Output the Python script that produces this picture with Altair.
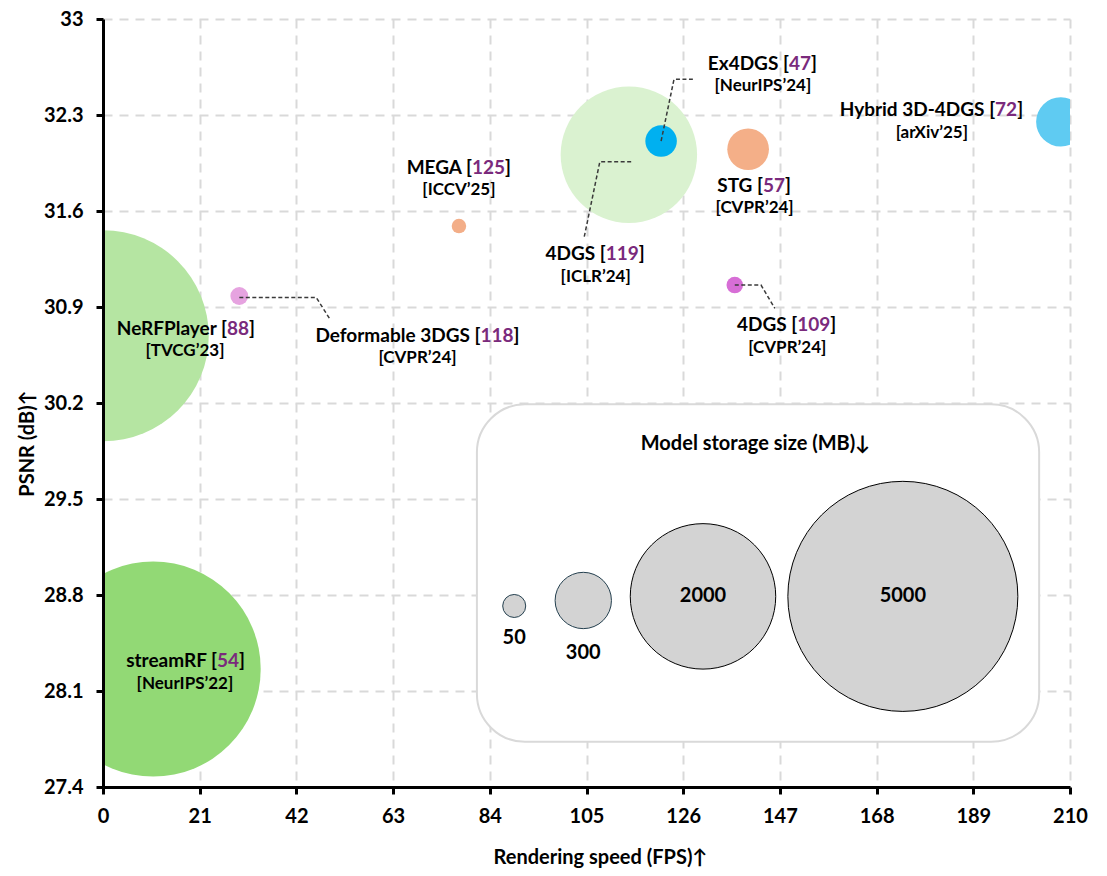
import altair as alt
import pandas as pd

# ---------------- data ----------------
methods = ["streamRF", "NeRFPlayer", "Deformable 3DGS", "MEGA", "4DGS",
           "Ex4DGS", "STG", "4DGS", "Hybrid 3D-4DGS"]
refs = ["54", "88", "118", "125", "119", "47", "57", "109", "72"]
venues = ["[NeurIPS’22]", "[TVCG’23]", "[CVPR’24]", "[ICCV’25]", "[ICLR’24]",
          "[NeurIPS’24]", "[CVPR’24]", "[CVPR’24]", "[arXiv’25]"]
fps = [10.9, 0.05, 29.6, 77.3, 114.2, 121.2, 140.1, 137.2, 208.0]
psnr = [28.26, 30.69, 30.98, 31.49, 32.01, 32.11, 32.05, 31.06, 32.25]
storage_mb = [4370, 4210, 30, 20, 1760, 94, 164, 26, 230]

# annotation anchors (data units)
label_x = [17.8, 17.8, 68.3, 77.3, 107.0, 143.3, 141.5, 148.6, 180.0]
label_y1 = [28.32, 30.74, 30.69, 31.91, 31.29, 32.67, 31.78, 30.77, 32.34]
label_y2 = [28.15, 30.58, 30.53, 31.75, 31.12, 32.51, 31.62, 30.60, 32.17]

leader_key = ["d3dgs"] * 3 + ["4dgs119"] * 3 + ["ex4dgs"] * 3 + ["4dgs109"] * 3
leader_ord = [0, 1, 2] * 4
leader_x = [29.6, 46.3, 49.3, 114.7, 107.9, 104.5, 121.2, 124.0, 128.1, 137.2, 142.9, 145.9]
leader_y = [30.97, 30.97, 30.81, 31.96, 31.96, 31.41, 32.11, 32.56, 32.56, 31.06, 31.06, 30.89]

legend_sizes = [50, 300, 2000, 5000]
legend_x = [89.3, 104.3, 130.3, 173.7]
legend_y = [28.72, 28.76, 28.79, 28.79]
legend_label_y = [28.49, 28.38, 28.79, 28.79]
legend_title = "Model storage size (MB)↓"
legend_title_x = [141.7]
legend_title_y = [29.90]
box_x = [81.2, 203.3]
box_y = [30.19, 27.73]

x_ticks = [0, 21, 42, 63, 84, 105, 126, 147, 168, 189, 210]
y_ticks = [27.4, 28.1, 28.8, 29.5, 30.2, 30.9, 31.6, 32.3, 33]

palette = ["#92D975", "#B5E5A2", "#E6A3E0", "#F3AE88", "#DAF2D0",
           "#00B0F0", "#F4AF88", "#D76ED6", "#5FCBF2"]
REF_COLOR = "#7A2A7C"
FONT = "Lato"
F1, F2 = 19, 17
PLOT_W, PLOT_H = 967, 768
X_DOM, Y_DOM = [0, 210], [27.4, 33]
PX_PER_X = PLOT_W / (X_DOM[1] - X_DOM[0])

# approximate advance widths (em) for Lato Bold, used to centre split labels
W = {' ': 0.193, '[': 0.33, ']': 0.33, '-': 0.37, '’': 0.25,
     'A': 0.70, 'B': 0.66, 'C': 0.66, 'D': 0.75, 'E': 0.56, 'F': 0.54, 'G': 0.73,
     'H': 0.77, 'I': 0.30, 'L': 0.50, 'M': 0.93, 'N': 0.77, 'P': 0.63, 'R': 0.65,
     'S': 0.54, 'T': 0.58, 'V': 0.70, 'X': 0.68, 'a': 0.52, 'b': 0.58, 'd': 0.58,
     'e': 0.54, 'f': 0.35, 'g': 0.53, 'i': 0.27, 'l': 0.27, 'm': 0.86, 'n': 0.58,
     'o': 0.57, 'p': 0.58, 'r': 0.40, 's': 0.45, 't': 0.38, 'u': 0.58, 'v': 0.53,
     'y': 0.53}


def tw(s, size):
    return sum(0.58 if c.isdigit() else W.get(c, 0.55) for c in s) * size


keys = [f"{m} [{r}]" for m, r in zip(methods, refs)]
pts = pd.DataFrame({"key": keys, "x": fps, "y": psnr, "mb": storage_mb})

rows = []
for m, r, v, lx, y1, y2 in zip(methods, refs, venues, label_x, label_y1, label_y2):
    pre, suf = f"{m} [", "]"
    wp, wn, ws = tw(pre, F1), tw(r, F1), tw(suf, F1)
    start = -(wp + wn + ws) / 2
    rows.append({"y": y1, "y2v": y2, "x": lx, "pre": pre, "num": r, "suf": suf,
                 "venue": v,
                 "xn": lx + (start + wp) / PX_PER_X,
                 "xs": lx + (start + wp + wn) / PX_PER_X})
labels = pd.DataFrame(rows)

leaders = pd.DataFrame({"k": leader_key, "o": leader_ord, "x": leader_x, "y": leader_y})
legend = pd.DataFrame({"x": legend_x, "y": legend_y, "ly": legend_label_y,
                       "mb": legend_sizes, "txt": [str(s) for s in legend_sizes]})
box = pd.DataFrame({"x": [box_x[0]], "x2": [box_x[1]], "y": [box_y[0]], "y2": [box_y[1]]})
ltitle = pd.DataFrame({"x": legend_title_x, "y": legend_title_y, "t": [legend_title]})

# ---------------- scales / axes ----------------
grid_common = dict(grid=True, gridColor="#D9D9D9", gridDash=[9, 7], gridWidth=2,
                   domain=False, ticks=False, labels=False, title=None, zindex=0,
                   minExtent=0, maxExtent=0)
main_common = dict(grid=False, domain=True, domainColor="black", domainWidth=3,
                   ticks=True, tickColor="black", tickWidth=3, tickSize=7,
                   labelFont=FONT, labelFontSize=20, labelFontWeight="bold",
                   labelColor="black", titleFont=FONT, titleFontSize=20,
                   titleFontWeight="bold", titleColor="black", labelOverlap=False,
                   labelFlush=False, zindex=1)
x_grid = alt.Axis(values=x_ticks, orient="bottom", **grid_common)
y_grid = alt.Axis(values=y_ticks, orient="left", **grid_common)
x_main = alt.Axis(values=x_ticks, orient="bottom", format="d",
                  title="Rendering speed (FPS)↑",
                  labelPadding=12, titleX=497, titleY=70, titleAlign="center",
                  titleBaseline="middle", **main_common)
y_main = alt.Axis(values=y_ticks, orient="left", format="~g", title="PSNR (dB)↑",
                  labelPadding=13, titleX=-76, titleY=424, titleAngle=-90,
                  titleAlign="center", titleBaseline="middle", **main_common)
xs = alt.Scale(domain=X_DOM, nice=False, zero=False)
ys = alt.Scale(domain=Y_DOM, nice=False, zero=False)


def X(f="x", axis=None):
    return alt.X(f"{f}:Q", scale=xs, axis=axis)


def Y(f="y", axis=None):
    return alt.Y(f"{f}:Q", scale=ys, axis=axis)


size_scale = alt.Scale(domain=[0, 5000], range=[0, 4 * 115 * 115], zero=True)

box_layer = alt.Chart(box).mark_rect(fill="white", stroke="#D9D9D9", strokeWidth=2,
                                     cornerRadius=48).encode(
    x=X(axis=x_grid), x2="x2:Q", y=Y(axis=y_grid), y2="y2:Q")

bubbles = alt.Chart(pts).mark_circle(opacity=1, clip=True).encode(
    x=X(axis=x_main), y=Y(axis=y_main),
    size=alt.Size("mb:Q", scale=size_scale, legend=None),
    color=alt.Color("key:N", scale=alt.Scale(domain=keys, range=palette), legend=None),
    order=alt.Order("mb:Q", sort="descending"))

lead = alt.Chart(leaders).mark_line(color="#3A3A3A", strokeWidth=1.5,
                                    strokeDash=[4, 2.5]).encode(
    x=X(), y=Y(), detail="k:N", order="o:Q")

txt_common = dict(font=FONT, fontWeight="bold", baseline="middle")
t_pre = alt.Chart(labels).mark_text(align="right", fontSize=F1, color="black",
                                    **txt_common).encode(
    x=X("xn"), y=Y(), text="pre:N")
t_num = alt.Chart(labels).mark_text(align="left", fontSize=F1, color=REF_COLOR,
                                    **txt_common).encode(
    x=X("xn"), y=Y(), text="num:N")
t_suf = alt.Chart(labels).mark_text(align="left", fontSize=F1, color="black",
                                    **txt_common).encode(
    x=X("xs"), y=Y(), text="suf:N")
t_ven = alt.Chart(labels).mark_text(align="center", fontSize=F2, color="black",
                                    **txt_common).encode(
    x=X(), y=Y("y2v"), text="venue:N")

leg_circ = alt.Chart(legend).mark_circle(opacity=1, fill="#D3D3D3", strokeWidth=1).encode(
    x=X(), y=Y(),
    size=alt.Size("mb:Q", scale=size_scale, legend=None),
    stroke=alt.condition(alt.datum.mb < 1000, alt.value("#24404F"), alt.value("black")))
leg_txt = alt.Chart(legend).mark_text(align="center", fontSize=20, color="black",
                                      **txt_common).encode(
    x=X(), y=Y("ly"), text="txt:N")
leg_title = alt.Chart(ltitle).mark_text(align="center", fontSize=20, color="black",
                                        **txt_common).encode(
    x=X(), y=Y(), text="t:N")

chart = alt.layer(box_layer, bubbles, lead, t_pre, t_num, t_suf, t_ven,
                  leg_circ, leg_txt, leg_title).resolve_axis(
    x="independent", y="independent").properties(
    width=PLOT_W, height=PLOT_H,
    autosize=alt.AutoSizeParams(type="none"),
    padding={"left": 95, "top": 11, "right": 20, "bottom": 88},
    background="white",
).configure_view(stroke=None)

chart.save("out.html", embed_options={"renderer": "svg", "actions": False})
